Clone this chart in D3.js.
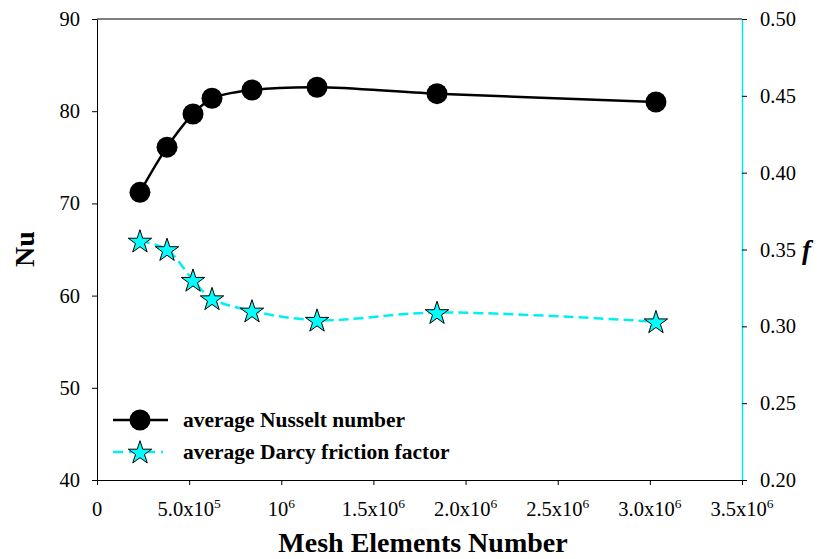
<!DOCTYPE html>
<html>
<head>
<meta charset="utf-8">
<script src="https://cdn.jsdelivr.net/npm/d3@7"></script>
<style>
  body { margin: 0; background: #fff; }
  svg text { font-family: "Liberation Serif", "Times New Roman", serif; }
</style>
</head>
<body>
<svg id="chart" width="820" height="559"></svg>
<script>
// mesh sizes (number of elements)
const meshElements = [233000, 380000, 521000, 624000, 841000, 1194000, 1845000, 3033000];
// average Nusselt number
const nusselt = [71.2, 76.1, 79.7, 81.4, 82.3, 82.6, 81.9, 81.0];
// average Darcy friction factor
const friction = [0.3555, 0.350, 0.330, 0.318, 0.310, 0.304, 0.309, 0.303];

// x tick labels: [mantissa, exponent]
const xTicks = [0, 500000, 1000000, 1500000, 2000000, 2500000, 3000000, 3500000];
const xTickLabels = [["0", null], ["5.0x10", "5"], ["10", "6"], ["1.5x10", "6"], ["2.0x10", "6"],
                     ["2.5x10", "6"], ["3.0x10", "6"], ["3.5x10", "6"]];
const nuTicks = [40, 50, 60, 70, 80, 90];
const fTicks = [0.20, 0.25, 0.30, 0.35, 0.40, 0.45, 0.50];

const margin = { left: 97, right: 78, top: 19, bottom: 79 };
const width = 820 - margin.left - margin.right;
const height = 559 - margin.top - margin.bottom;
const serif = '"Liberation Serif", "Times New Roman", serif';

const svg = d3.select("#chart");
const g = svg.append("g").attr("transform", `translate(${margin.left},${margin.top})`);

const x = d3.scaleLinear().domain([0, 3500000]).range([0, width]);
const yNu = d3.scaleLinear().domain([40, 90]).range([height, 0]);
const yF = d3.scaleLinear().domain([0.20, 0.50]).range([height, 0]);

// frame top line
g.append("line").attr("x1", 0).attr("x2", width).attr("y1", 0).attr("y2", 0)
  .attr("stroke", "#000").attr("stroke-width", 1);

// bottom axis
const xAxis = g.append("g").attr("transform", `translate(0,${height})`)
  .call(d3.axisBottom(x).tickValues(xTicks).tickSize(5).tickSizeOuter(0).tickFormat(""));
xAxis.selectAll("line, path").attr("stroke", "#000");
xTicks.forEach((v, i) => {
  const t = g.append("text").attr("x", x(v)).attr("y", height + 36)
    .attr("text-anchor", "middle").attr("fill", "#000")
    .style("font-family", serif).style("font-size", "20.5px");
  t.append("tspan").text(xTickLabels[i][0]);
  if (xTickLabels[i][1]) {
    t.append("tspan").attr("dy", -8).style("font-size", "13.5px").text(xTickLabels[i][1]);
  }
});

// left axis
const leftAxis = g.append("g")
  .call(d3.axisLeft(yNu).tickValues(nuTicks).tickSize(5).tickSizeOuter(0).tickFormat(d3.format("d")));
leftAxis.selectAll("line, path").attr("stroke", "#000");
leftAxis.selectAll("text").attr("fill", "#000").attr("x", -17)
  .style("font-family", serif).style("font-size", "20.5px");

// right axis
const rightAxis = g.append("g").attr("transform", `translate(${width},0)`)
  .call(d3.axisRight(yF).tickValues(fTicks).tickSize(5).tickSizeOuter(0).tickFormat(d3.format(".2f")));
rightAxis.selectAll("line").attr("stroke", "#000");
rightAxis.select("path").attr("stroke", "#00e5ee").attr("stroke-width", 1.5);
rightAxis.selectAll("text").attr("fill", "#000").attr("x", 18)
  .style("font-family", serif).style("font-size", "20.5px");

// axis titles
svg.append("text").attr("transform", "translate(34,249) rotate(-90)")
  .attr("text-anchor", "middle").attr("font-size", 28).attr("font-weight", "bold").text("Nu");
svg.append("text").attr("x", 802).attr("y", 259)
  .attr("font-size", 27).attr("font-weight", "bold").attr("font-style", "italic").text("f");
svg.append("text").attr("x", 423).attr("y", 552)
  .attr("text-anchor", "middle").attr("font-size", 28).attr("font-weight", "bold")
  .text("Mesh Elements Number");

// series
const nuData = meshElements.map((m, i) => ({ x: m, y: nusselt[i] }));
const fData = meshElements.map((m, i) => ({ x: m, y: friction[i] }));

g.append("path").datum(fData)
  .attr("fill", "none").attr("stroke", "#00f0f0").attr("stroke-width", 2.5)
  .attr("stroke-dasharray", "10,5")
  .attr("d", d3.line().x(d => x(d.x)).y(d => yF(d.y)).curve(d3.curveCatmullRom.alpha(0.5)));

g.append("path").datum(nuData)
  .attr("fill", "none").attr("stroke", "#000").attr("stroke-width", 2.5)
  .attr("d", d3.line().x(d => x(d.x)).y(d => yNu(d.y)).curve(d3.curveCatmullRom.alpha(0.5)));

g.selectAll("circle.nu").data(nuData).enter().append("circle")
  .attr("class", "nu")
  .attr("cx", d => x(d.x)).attr("cy", d => yNu(d.y)).attr("r", 10.5).attr("fill", "#000");

const star = d3.symbol().type(d3.symbolStar).size(170);
g.selectAll("path.star").data(fData).enter().append("path")
  .attr("class", "star")
  .attr("transform", d => `translate(${x(d.x)},${yF(d.y) + 1})`)
  .attr("d", star).attr("fill", "#00ffff").attr("stroke", "#000").attr("stroke-width", 1);

// legend
const legend = svg.append("g");
legend.append("line").attr("x1", 113).attr("x2", 168).attr("y1", 420).attr("y2", 420)
  .attr("stroke", "#000").attr("stroke-width", 2.5);
legend.append("circle").attr("cx", 140).attr("cy", 420).attr("r", 10.5).attr("fill", "#000");
legend.append("text").attr("x", 183).attr("y", 427).attr("font-size", 21.5).attr("font-weight", "bold")
  .text("average Nusselt number");
legend.append("line").attr("x1", 113).attr("x2", 163).attr("y1", 452).attr("y2", 452)
  .attr("stroke", "#00f0f0").attr("stroke-width", 2.5).attr("stroke-dasharray", "10,6");
legend.append("path").attr("transform", "translate(140,453)").attr("d", star)
  .attr("fill", "#00ffff").attr("stroke", "#000").attr("stroke-width", 1);
legend.append("text").attr("x", 183).attr("y", 459).attr("font-size", 21.5).attr("font-weight", "bold")
  .text("average Darcy friction factor");
</script>
</body>
</html>
